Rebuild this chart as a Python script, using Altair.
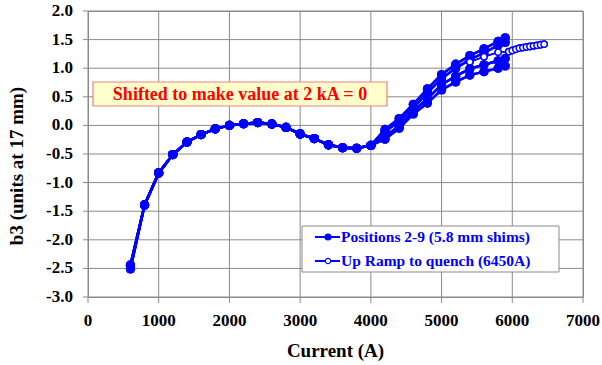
import altair as alt
import pandas as pd

# ---- data ----
low_currents = [600, 800, 1000, 1200, 1400, 1600, 1800, 2000, 2200, 2400,
                2600, 2800, 3000, 3200, 3400, 3600, 3800, 4000]
low_values = [-2.47, -1.39, -0.83, -0.51, -0.29, -0.16, -0.06, 0.0, 0.03, 0.05,
              0.025, -0.035, -0.15, -0.23, -0.34, -0.39, -0.40, -0.35]
start_values = {"A": -2.44, "B": -2.45, "C": -2.50, "D": -2.51}

hi_currents = [4200, 4400, 4600, 4800, 5000, 5200, 5400, 5600, 5800, 5900]
hi_a = [-0.07, 0.12, 0.37, 0.64, 0.89, 1.07, 1.22, 1.34, 1.47, 1.53]
hi_b = [-0.11, 0.07, 0.31, 0.57, 0.82, 1.00, 1.15, 1.27, 1.40, 1.45]
hi_c = [-0.19, -0.01, 0.25, 0.47, 0.71, 0.86, 0.99, 1.06, 1.13, 1.17]
hi_d = [-0.24, -0.05, 0.20, 0.39, 0.62, 0.76, 0.88, 0.94, 1.00, 1.04]

ramp_currents = [5400, 5600, 5800, 5950, 6000, 6050, 6100, 6150, 6200,
                 6250, 6300, 6350, 6400, 6450]
ramp_values = [1.11, 1.20, 1.28, 1.29, 1.31, 1.33, 1.35, 1.36, 1.37,
               1.38, 1.39, 1.40, 1.41, 1.42]

x_ticks = [0, 1000, 2000, 3000, 4000, 5000, 6000, 7000]
x_tick_labels = ["0", "1000", "2000", "3000", "4000", "5000", "6000", "7000"]
y_ticks = [-3.0, -2.5, -2.0, -1.5, -1.0, -0.5, 0.0, 0.5, 1.0, 1.5, 2.0]
y_tick_labels = ["-3.0", "-2.5", "-2.0", "-1.5", "-1.0", "-0.5", "0.0",
                 "0.5", "1.0", "1.5", "2.0"]

x_title = "Current (A)"
y_title = "b3 (units at 17 mm)"
legend_labels = ["Positions 2-9 (5.8 mm shims)", "Up Ramp to quench (6450A)"]
note_text = "Shifted to make value at 2 kA = 0"

BLUE = "#0000ff"
FONT = "Liberation Serif"
GRID = "#8a8a8a"
W, H = 495, 286

rows = []
for name, hi in [("A", hi_a), ("B", hi_b), ("C", hi_c), ("D", hi_d)]:
    vals = [start_values[name]] + low_values[1:] + hi
    curs = low_currents + hi_currents
    for i, (c, v) in enumerate(zip(curs, vals)):
        rows.append({"pos": name, "order": i, "current": c, "b3": v})
pos_df = pd.DataFrame(rows)
ramp_df = pd.DataFrame({"current": ramp_currents, "b3": ramp_values,
                        "order": list(range(len(ramp_currents)))})
xgrid_df = pd.DataFrame({"current": x_ticks, "label": x_tick_labels})
ygrid_df = pd.DataFrame({"b3": y_ticks, "label": y_tick_labels})

xscale = alt.Scale(domain=[0, 7000], nice=False, zero=False)
yscale = alt.Scale(domain=[-3, 2], nice=False, zero=False)
xe = alt.X("current:Q", scale=xscale, axis=None)
ye = alt.Y("b3:Q", scale=yscale, axis=None)


def data_layers():
    pos_lines = alt.Chart(pos_df).mark_line(color=BLUE, strokeWidth=2.5).encode(
        x=xe, y=ye, detail="pos:N", order="order:Q")
    pos_points = alt.Chart(pos_df).mark_point(
        filled=True, color=BLUE, size=85, opacity=1).encode(x=xe, y=ye)
    ramp_line = alt.Chart(ramp_df).mark_line(color=BLUE, strokeWidth=1.5).encode(
        x=xe, y=ye, order="order:Q")
    ramp_points = alt.Chart(ramp_df).mark_point(
        shape="circle", fill="white", stroke=BLUE, strokeWidth=1.5, size=40,
        opacity=1, fillOpacity=1).encode(x=xe, y=ye)
    return [pos_lines, pos_points, ramp_line, ramp_points]


# grid + frame
xgrid = alt.Chart(xgrid_df).mark_rule(color=GRID, strokeWidth=1).encode(x=xe)
ygrid = alt.Chart(ygrid_df).mark_rule(color=GRID, strokeWidth=1).encode(y=ye)

# ticks and tick labels
xticks = alt.Chart(xgrid_df).mark_rule(color=GRID, strokeWidth=1).encode(
    x=xe, y=alt.value(H), y2=alt.value(H + 6))
yticks = alt.Chart(ygrid_df).mark_rule(color=GRID, strokeWidth=1).encode(
    y=ye, x=alt.value(-5), x2=alt.value(0))
xlabels = alt.Chart(xgrid_df).mark_text(
    font=FONT, fontSize=17, fontWeight="bold", color="black",
    align="center", baseline="middle").encode(
    x=xe, y=alt.value(H + 24), text="label:N")
ylabels = alt.Chart(ygrid_df).mark_text(
    font=FONT, fontSize=17, fontWeight="bold", color="black",
    align="right", baseline="middle").encode(
    y=ye, x=alt.value(-15), text="label:N")

one = pd.DataFrame({"k": [0]})
xtitle = alt.Chart(one).mark_text(
    text=x_title, font=FONT, fontSize=19, fontWeight="bold", color="black",
    align="center", baseline="middle").encode(
    x=alt.value(W / 2), y=alt.value(H + 54))
ytitle = alt.Chart(one).mark_text(
    text=y_title, font=FONT, fontSize=19, fontWeight="bold", color="black",
    align="center", baseline="middle", angle=270).encode(
    x=alt.value(-71), y=alt.value(H / 2 + 12))

# annotation
note_box = alt.Chart(one).mark_rect(fill="#ffffcc", stroke="#f08080",
                                    strokeWidth=1.2).encode(
    x=alt.value(5), x2=alt.value(299), y=alt.value(71), y2=alt.value(95))
note = alt.Chart(one).mark_text(text=note_text, font=FONT, fontSize=18,
                                fontWeight="bold", color="#ff0000",
                                align="center", baseline="middle").encode(
    x=alt.value(152), y=alt.value(84))

# legend
leg_box = alt.Chart(one).mark_rect(fill="white", stroke=GRID,
                                   strokeWidth=1).encode(
    x=alt.value(214), x2=alt.value(471), y=alt.value(215), y2=alt.value(261))
legend_layers = []
for i, label in enumerate(legend_labels):
    ypix = 226 + 24 * i
    legend_layers.append(alt.Chart(one).mark_rule(color=BLUE, strokeWidth=2).encode(
        x=alt.value(227), x2=alt.value(252), y=alt.value(ypix)))
    if i == 0:
        legend_layers.append(alt.Chart(one).mark_point(
            filled=True, color=BLUE, size=50, opacity=1).encode(
            x=alt.value(240), y=alt.value(ypix)))
    else:
        legend_layers.append(alt.Chart(one).mark_point(
            shape="circle", fill="white", stroke=BLUE, strokeWidth=1.2, size=28,
            opacity=1, fillOpacity=1).encode(x=alt.value(240), y=alt.value(ypix)))
    legend_layers.append(alt.Chart(one).mark_text(
        text=label, font=FONT, fontSize=15.5, fontWeight="bold", color=BLUE,
        align="left", baseline="middle").encode(
        x=alt.value(253), y=alt.value(ypix)))

chart = alt.layer(
    *data_layers(), xgrid, ygrid, *data_layers(),
    xticks, yticks, xlabels, ylabels, xtitle, ytitle,
    note_box, note, leg_box, *legend_layers
).properties(
    width=W, height=H,
    autosize=alt.AutoSizeParams(type="none"),
    padding={"left": 88, "top": 11, "right": 19, "bottom": 68},
    background="white",
).configure_view(stroke=GRID, strokeWidth=1)

chart.save("out.html", embed_options={"renderer": "svg", "actions": False})
